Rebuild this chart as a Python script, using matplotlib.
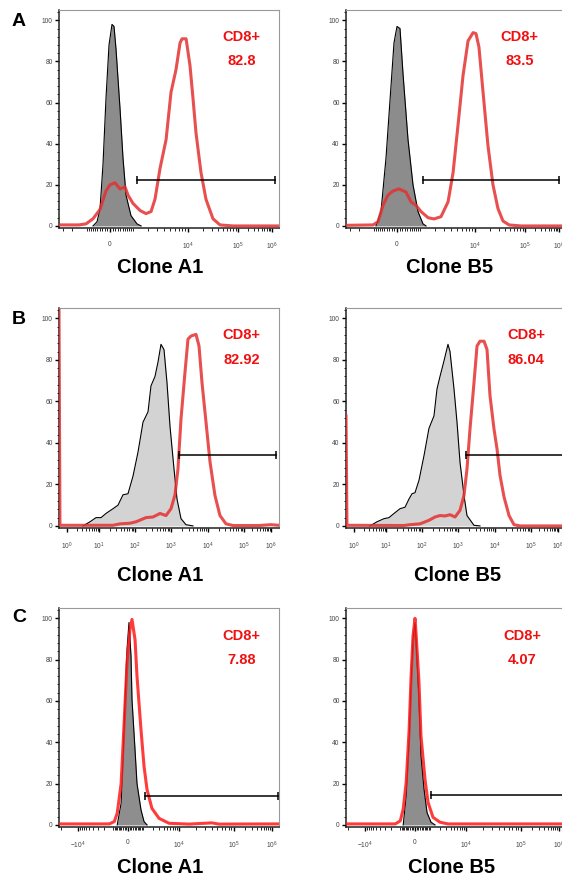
import matplotlib
matplotlib.use("Agg")
import matplotlib.pyplot as plt
import numpy as np
from matplotlib.ticker import FixedLocator, MultipleLocator

plt.rcParams['font.family'] = ['Liberation Sans', 'DejaVu Sans']
plt.rcParams['mathtext.fontset'] = 'custom'
plt.rcParams['mathtext.rm'] = 'Liberation Sans'
plt.rcParams['mathtext.it'] = 'Liberation Sans:italic'

# ---- data: histogram outlines (fluorescence intensity, % of max) ----
# row A (biexponential axis)
a1_grey_x = [-701, -521, -395, -272, -155, -38, 77, 155, 233, 395, 521, 655, 898, 1235, 1500]
a1_grey_y = [0, 2, 8, 30, 62, 88, 98, 97, 86, 57, 33, 15, 5, 1, 0]
a1_red_x = [-3480, -1500, -1060, -701, -395, -155, 0, 193, 395, 610, 750, 1000, 1430, 1870,
            2320, 2730, 3350, 4260, 5170, 6280, 7350, 7940, 9290, 10960, 12600, 14500, 18200,
            22900, 31600, 43700, 79400, 1.6e6]
a1_red_y = [0.5, 0.5, 1, 3.5, 8, 17, 20, 21, 18, 19, 15, 11, 7.5, 6, 7, 13, 28, 42, 65, 76,
            89, 91, 91, 78, 62, 45, 26, 13, 3.5, 0.5, 0, 0]
b5_grey_x = [-898, -655, -436, -233, -116, 0, 116, 233, 436, 655, 898, 1175, 1364]
b5_grey_y = [0, 7, 33, 68, 89, 97, 96, 74, 42, 20, 7, 1, 0]
b5_red_x = [-3480, -1060, -798, -565, -353, -155, 77, 353, 565, 798, 1060, 1500, 1950, 2620,
            3490, 4260, 5170, 6280, 7640, 9290, 10470, 12000, 14500, 18200, 22900, 28800,
            36300, 47900, 83000, 1.6e6]
b5_red_y = [0.3, 0.5, 2, 10, 15, 17, 18, 16.5, 11.7, 10, 7, 4, 3.4, 4.5, 11.7, 26, 49, 73,
            90, 94, 93.5, 87, 65, 39, 20, 8.5, 2.4, 0.5, 0, 0]

# row B (log axis)
a1b_grey_x = [3.16, 5.24, 8.06, 11.4, 15.6, 24.5, 33.7, 46.4, 63.9, 88, 121, 167, 230, 278,
              359, 436, 527, 639, 774, 938, 1205, 1452, 1862, 2541, 3936]
a1b_grey_y = [0, 2, 4, 4, 6, 8.3, 10, 15, 15.5, 24, 35.5, 50, 55, 67.5, 72, 79, 87.5, 85, 69,
              48, 27.5, 13, 3.5, 0.6, 0]
a1b_red_x = [0.56, 0.6, 24.5, 38.3, 72.6, 107, 202, 316, 495, 726, 1000, 1282, 1545, 1862,
             2388, 2877, 3475, 4742, 5715, 6887, 8831, 11400, 15600, 21500, 31600, 49500,
             360000, 1e6, 2e6]
a1b_red_y = [104, 0.3, 0.3, 1, 1.3, 2, 4, 4.3, 6, 5, 8.3, 15, 27.5, 51.5, 74, 90, 91.5, 92.3,
             86.7, 69, 50, 30.7, 14.7, 5, 1, 0.2, 0.2, 0.6, 0.3]
b5b_grey_x = [3.16, 5.24, 8.66, 12.1, 16.7, 24.5, 33.7, 43.6, 52.7, 63.9, 82.5, 114, 156, 215,
              261, 316, 408, 527, 600, 774, 938, 1133, 1452, 1750, 2704, 3936]
b5b_grey_y = [0, 2, 3.5, 4, 6, 8.3, 9, 13, 15.5, 16, 22, 34, 47, 53, 66, 72, 79.5, 87.5, 84,
              66, 50, 30.7, 14.7, 5, 0.3, 0]
b5b_red_x = [0.56, 0.6, 31.6, 46.4, 88, 156, 230, 316, 436, 600, 826, 1133, 1452, 1750, 2110,
             2704, 3266, 3936, 5047, 6083, 7329, 9397, 11400, 13800, 17800, 24500, 33700,
             49500, 2e6]
b5b_red_y = [53, 0.3, 0.2, 0.6, 1, 2.7, 4.3, 5, 4.8, 5.4, 4.3, 7.5, 14.7, 27.5, 46.7, 69,
             86.7, 89, 89, 85, 62.7, 46.7, 37, 24.3, 14, 5, 0.6, 0, 0]

# row C (biexponential axis)
a1c_grey_x = [-693, -424, -298, -177, -59, 59, 177, 237, 424, 554, 841, 1090, 1370]
a1c_grey_y = [0, 10.5, 33, 60.7, 85, 98, 81.7, 60.7, 36.4, 20, 7.3, 1.6, 0]
a1c_red_x = [-22000, -4900, -1370, -919, -693, -424, -237, -59, 118, 237, 424, 554, 841, 1090,
             1370, 1920, 3020, 5530, 15200, 39800, 53400, 1.5e6]
a1c_red_y = [0.5, 0.5, 0.5, 1.6, 5.7, 20, 49, 78.5, 94.7, 99.5, 89.8, 72, 46, 28.3, 17, 8,
             3.2, 0.8, 0.4, 1, 0.4, 0.5]
b5c_grey_x = [-767, -554, -360, -237, -118, 0, 59, 237, 360, 554, 767, 1090, 1470]
b5c_grey_y = [0, 14, 41.5, 69, 90, 98, 90, 61, 33.5, 17.4, 6, 1.3, 0]
b5c_red_x = [-22000, -4620, -1470, -1000, -767, -554, -360, -237, -118, 0, 59, 237, 360, 623,
             841, 1266, 2060, 3410, 1.5e6]
b5c_red_y = [0.5, 0.5, 0.5, 2, 7.7, 20.6, 46, 72, 91.5, 100, 93, 69, 43, 22, 11, 3.7, 1.3,
             0.5, 0.5]

# gates (x start, x end, height) and CD8+ percentages
gates = [(1235, 1.22e6, 22.4), (1175, 1.0e6, 22.5),
         (1644, 1.53e6, 34.4), (1644, 1.5e6, 34.4),
         (1175, 1.45e6, 14.1), (1090, 1.45e6, 14.7)]
pcts = ["82.8", "83.5", "82.92", "86.04", "7.88", "4.07"]
clones = ["Clone A1", "Clone B5"]
rows = ["A", "B", "C"]

# axis tick values / labels for each row
ticksA = [0, 1e4, 1e5, 1e6]
labelsA = ["0", r"$10^4$", r"$10^5$", r"$10^6$"]
ticksB = [1, 10, 100, 1e3, 1e4, 1e5, 1e6]
labelsB = [r"$10^%d$" % k for k in range(7)]
ticksC = [-1e4, 0, 1e4, 1e5, 1e6]
labelsC = [r"$-10^4$", "0", r"$10^4$", r"$10^5$", r"$10^6$"]


def axis_func(vals, rel, c):
    # piecewise display transform (FlowJo-like) anchored on the decade positions
    T = np.arcsinh(np.asarray(vals, float) / c)
    F = np.asarray(rel, float) / 220.0

    def fwd(v):
        return np.interp(np.arcsinh(np.asarray(v, float) / c), T, F)

    def inv(p):
        return c * np.sinh(np.interp(np.asarray(p, float), F, T))
    return (fwd, inv), (vals[0], vals[-1])


scaleA = axis_func([-3480, 0, 1e4, 1e5, 1e6, 1.6e6], [0, 51, 129, 179, 213, 220], 1000)
scaleB = axis_func([0.56, 1, 10, 100, 1e3, 1e4, 1e5, 1e6, 2e6],
                   [0, 8, 40, 76, 112, 149, 185, 212, 220], 0.01)
scaleC = axis_func([-2.2e4, -1e4, 0, 1e4, 1e5, 1e6, 1.5e6], [0, 19, 69, 120, 175, 213, 220], 1000)

hund = [k * 100 for k in range(1, 10)]
thou = [k * 1000 for k in range(2, 10)]
dec = [k * 10 ** d for d in (4, 5) for k in range(2, 10)]
minorA = [-3000, -2000, -1000] + [-h for h in hund] + hund + [1000] + thou + dec
minorB = [k * 10 ** d for d in range(0, 6) for k in range(2, 10)]
minorC = [-2e4] + [-t for t in thou] + [-1000] + [-h for h in hund] + hund + [1000] + thou + dec

fig = plt.figure(figsize=(5.62, 8.77), dpi=100)
W, H = 562.0, 877.0
col_left = [59 / W, 346 / W]
row_box = [(228, 218), (528, 220), (827, 219)]   # bottom px, height px

panels = [
    (a1_grey_x, a1_grey_y, a1_red_x, a1_red_y),
    (b5_grey_x, b5_grey_y, b5_red_x, b5_red_y),
    (a1b_grey_x, a1b_grey_y, a1b_red_x, a1b_red_y),
    (b5b_grey_x, b5b_grey_y, b5b_red_x, b5b_red_y),
    (a1c_grey_x, a1c_grey_y, a1c_red_x, a1c_red_y),
    (b5c_grey_x, b5c_grey_y, b5c_red_x, b5c_red_y),
]
row_scale = [scaleA, scaleB, scaleC]
row_ticks = [(ticksA, labelsA, minorA), (ticksB, labelsB, minorB), (ticksC, labelsC, minorC)]
row_fill = ["#8c8c8c", "#d3d3d3", "#8e8e8e"]
text_x = [0.83, 0.79, 0.83, 0.82, 0.83, 0.80]
clone_x = [0.46, 0.47, 0.46, 0.505, 0.46, 0.48]
clone_y = [-0.183, -0.214, -0.183]

for i, (gx, gy, rx, ry) in enumerate(panels):
    r, c = divmod(i, 2)
    bot, hgt = row_box[r]
    ax = fig.add_axes([col_left[c], 1 - bot / H, 220 / W, hgt / H])
    funcs, lims = row_scale[r]
    ax.set_xscale("function", functions=funcs)
    ax.set_xlim(*lims)
    ax.set_ylim(-1, 105)

    ax.fill_between(gx, gy, 0, color=row_fill[r], lw=0, zorder=2)
    ax.plot(gx, gy, color="black", lw=0.8, zorder=3)
    red = "#ff1a1a" if r == 2 else "#e53030"
    ax.plot(rx, ry, color=red, lw=2.2, alpha=0.85, zorder=4, solid_joinstyle="round")

    x0, x1, gyv = gates[i]
    ax.plot([x0, x1], [gyv, gyv], color="black", lw=1.1, marker="|", ms=6, mew=1.1, zorder=5)

    ax.text(text_x[i], 0.876 if r != 2 else 0.872, "CD8+", transform=ax.transAxes,
            color="#f01010", fontsize=10.5, fontweight="bold", ha="center", va="center")
    ax.text(text_x[i], 0.764, pcts[i], transform=ax.transAxes,
            color="#f01010", fontsize=10.5, fontweight="bold", ha="center", va="center")
    ax.text(clone_x[i], clone_y[r], clones[c], transform=ax.transAxes,
            fontsize=14.5, fontweight="bold", ha="center", va="center")

    ticks, labels, minor = row_ticks[r]
    ax.xaxis.set_major_locator(FixedLocator(ticks))
    ax.xaxis.set_minor_locator(FixedLocator(minor))
    ax.set_xticklabels(labels)
    ax.set_yticks([0, 20, 40, 60, 80, 100])
    ax.yaxis.set_minor_locator(MultipleLocator(4))
    ax.tick_params(which="major", direction="out", length=3, width=1.0,
                   labelsize=4.8, labelcolor="#444444")
    ax.tick_params(which="minor", direction="out", length=1.8, width=0.6)
    ax.tick_params(axis="x", which="major", pad=6)
    ax.tick_params(axis="y", which="major", pad=1.5)
    for s in ("top", "right"):
        ax.spines[s].set_color("#999999")
        ax.spines[s].set_linewidth(0.8)
    for s in ("left", "bottom"):
        ax.spines[s].set_color("#222222")
        ax.spines[s].set_linewidth(1.1)

for r, lab in enumerate(rows):
    ycen = [21, 319, 618][r]
    fig.text(19 / W, 1 - ycen / H, lab, fontsize=14, fontweight="bold", ha="center", va="center")

fig.savefig("out.png", dpi=100)
